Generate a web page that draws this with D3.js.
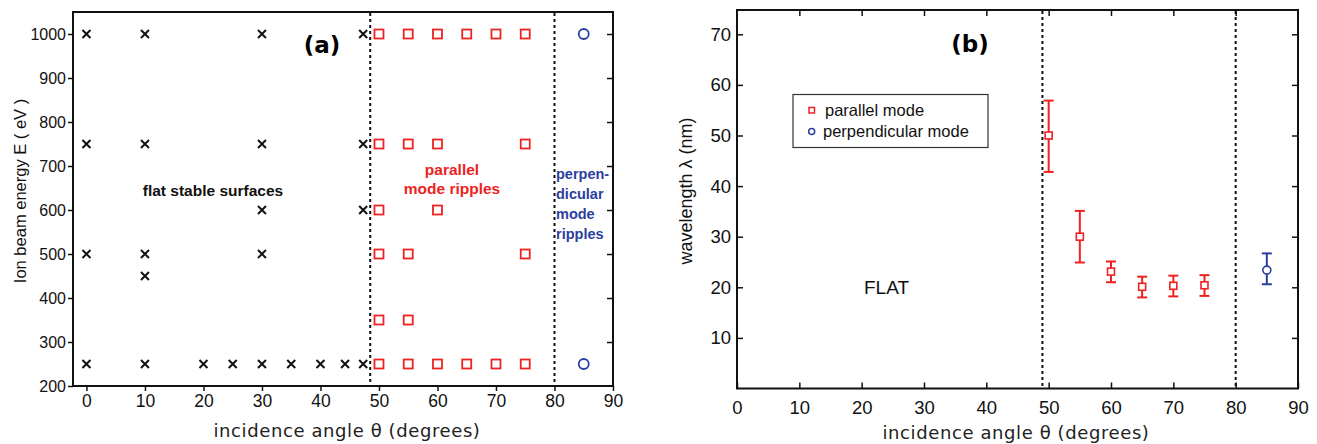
<!DOCTYPE html>
<html lang="en">
<head>
<meta charset="UTF-8">
<title>Ripple phase diagram</title>
<style>
  body { margin: 0; background: #fff; }
  svg { display: block; font-family: "Liberation Sans", Arial, sans-serif; }
</style>
</head>
<body>
<svg id="chart" width="1317" height="444"></svg>
<script src="https://d3js.org/d3.v7.min.js"></script>
<script>
// ---- data ----
const angleTicks = [0, 10, 20, 30, 40, 50, 60, 70, 80, 90];
const energyTicks = [200, 300, 400, 500, 600, 700, 800, 900, 1000];
const wavelengthTicks = [10, 20, 30, 40, 50, 60, 70];

// panel (a): [angle, energy]
const flatPoints = [
  [0, 1000], [10, 1000], [30, 1000], [47.3, 1000],
  [0, 750], [10, 750], [30, 750], [47.3, 750],
  [30, 600], [47.3, 600],
  [0, 500], [10, 500], [30, 500],
  [10, 450],
  [0, 250], [10, 250], [20, 250], [25, 250], [30, 250], [35, 250], [40, 250], [44.2, 250], [47.3, 250]
];
const parallelPoints = [
  [50, 1000], [55, 1000], [60, 1000], [65, 1000], [70, 1000], [75, 1000],
  [50, 750], [55, 750], [60, 750], [75, 750],
  [50, 600], [60, 600],
  [50, 500], [55, 500], [75, 500],
  [50, 350], [55, 350],
  [50, 250], [55, 250], [60, 250], [65, 250], [70, 250], [75, 250]
];
const perpPoints = [[85, 1000], [85, 250]];
const boundariesA = [48.5, 80];

// panel (b): angle, wavelength, low, high
const parAngle = [50, 55, 60, 65, 70, 75];
const parLambda = [50, 30, 23.1, 20.1, 20.3, 20.4];
const parLow = [42.8, 24.9, 21.0, 18.0, 18.2, 18.3];
const parHigh = [56.9, 35.1, 25.1, 22.1, 22.3, 22.4];
const perpAngle = [85];
const perpLambda = [23.4];
const perpLow = [20.6];
const perpHigh = [26.7];
const boundariesB = [49, 80];

const RED = "#ee2222", BLUE = "#2b3f9e";
const svg = d3.select("#chart");

// ================= panel (a) =================
const xa = d3.scaleLinear().domain([-2.3, 90]).range([73, 613]);
const ya = d3.scaleLinear().domain([200, 1050]).range([386, 12]);
const ga = svg.append("g");

ga.append("rect")
  .attr("x", 73).attr("y", 12).attr("width", 540).attr("height", 374)
  .attr("fill", "none").attr("stroke", "#111").attr("stroke-width", 2);

ga.append("g").attr("transform", "translate(0,386)")
  .call(d3.axisBottom(xa).tickValues(angleTicks).tickSize(5).tickPadding(4).tickFormat(d3.format("d")))
  .call(g => g.select(".domain").remove())
  .call(g => g.selectAll("line").attr("stroke", "#111").attr("stroke-width", 1.5))
  .call(g => g.selectAll("text").style("font-family", "'Liberation Sans', Arial").attr("font-size", 17.5).attr("fill", "#111"));

ga.append("g").attr("transform", "translate(73,0)")
  .call(d3.axisLeft(ya).tickValues(energyTicks).tickSize(5).tickPadding(2).tickFormat(d3.format("d")))
  .call(g => g.select(".domain").remove())
  .call(g => g.selectAll("line").attr("stroke", "#111").attr("stroke-width", 1.5))
  .call(g => g.selectAll("text").style("font-family", "'Liberation Sans', Arial").attr("font-size", 16).attr("fill", "#111"));

ga.append("g").attr("transform", "translate(613,0)")
  .call(d3.axisRight(ya).tickValues(energyTicks.filter(v => v > 200)).tickSize(-6).tickFormat(""))
  .call(g => g.select(".domain").remove())
  .call(g => g.selectAll("line").attr("stroke", "#111").attr("stroke-width", 1.5));

ga.selectAll("line.bound").data(boundariesA).join("line")
  .attr("x1", d => xa(d)).attr("x2", d => xa(d))
  .attr("y1", 13).attr("y2", 385)
  .attr("stroke", "#111").attr("stroke-width", 2).attr("stroke-dasharray", "3,3");

const cs = 4;
ga.selectAll("path.cross").data(flatPoints).join("path")
  .attr("d", d => {
    const x = xa(d[0]), y = ya(d[1]);
    return `M${x - cs},${y - cs}L${x + cs},${y + cs}M${x - cs},${y + cs}L${x + cs},${y - cs}`;
  })
  .attr("stroke", "#111").attr("stroke-width", 2);

ga.selectAll("rect.par").data(parallelPoints).join("rect")
  .attr("x", d => xa(d[0]) - 4.5).attr("y", d => ya(d[1]) - 4.5)
  .attr("width", 9).attr("height", 9)
  .attr("fill", "none").attr("stroke", RED).attr("stroke-width", 1.8);

ga.selectAll("circle.perp").data(perpPoints).join("circle")
  .attr("cx", d => xa(d[0])).attr("cy", d => ya(d[1])).attr("r", 5)
  .attr("fill", "none").attr("stroke", BLUE).attr("stroke-width", 1.8);

ga.append("text").attr("x", 322).attr("y", 53).attr("text-anchor", "middle")
  .attr("font-size", 23).attr("font-weight", "bold").style("font-family", "'DejaVu Sans'")
  .text("(a)");

ga.append("text").attr("x", 213).attr("y", 196).attr("text-anchor", "middle")
  .attr("font-size", 15.5).attr("font-weight", "bold").attr("fill", "#111")
  .text("flat stable surfaces");

ga.append("text").attr("x", 452).attr("text-anchor", "middle")
  .attr("font-size", 15.5).attr("font-weight", "bold").attr("fill", RED)
  .selectAll("tspan").data(["parallel", "mode ripples"]).join("tspan")
  .attr("x", 452).attr("y", (d, i) => 175 + i * 19).text(d => d);

ga.append("text").attr("font-size", 14.5).attr("font-weight", "bold").attr("fill", BLUE)
  .selectAll("tspan").data(["perpen-", "dicular", "mode", "ripples"]).join("tspan")
  .attr("x", 556).attr("y", (d, i) => 179 + i * 20).text(d => d);

ga.append("text").attr("transform", "translate(26,191) rotate(-90)")
  .attr("text-anchor", "middle").attr("font-size", 16.5).attr("fill", "#111")
  .text("Ion beam energy E ( eV )");

ga.append("text").attr("x", 347).attr("y", 437).attr("text-anchor", "middle")
  .style("font-family", "'DejaVu Sans'").style("letter-spacing", "0.6px")
  .attr("font-size", 18).attr("fill", "#222")
  .text("incidence angle θ (degrees)");

// ================= panel (b) =================
const xb = d3.scaleLinear().domain([0, 90]).range([737, 1298]);
const yb = d3.scaleLinear().domain([0, 74.8]).range([388.5, 10]);
const gb = svg.append("g");

gb.append("rect")
  .attr("x", 737).attr("y", 10).attr("width", 561).attr("height", 378.5)
  .attr("fill", "none").attr("stroke", "#111").attr("stroke-width", 2);

gb.append("g").attr("transform", "translate(0,388.5)")
  .call(d3.axisBottom(xb).tickValues(angleTicks).tickSize(-6).tickPadding(12))
  .call(g => g.select(".domain").remove())
  .call(g => g.selectAll("line").attr("stroke", "#111").attr("stroke-width", 1.5))
  .call(g => g.selectAll("text").style("font-family", "'Liberation Sans', Arial").attr("font-size", 18.5).attr("fill", "#111"));

gb.append("g").attr("transform", "translate(0,10)")
  .call(d3.axisTop(xb).tickValues(angleTicks.slice(1, -1)).tickSize(-6).tickFormat(""))
  .call(g => g.select(".domain").remove())
  .call(g => g.selectAll("line").attr("stroke", "#111").attr("stroke-width", 1.5));

gb.append("g").attr("transform", "translate(737,0)")
  .call(d3.axisLeft(yb).tickValues(wavelengthTicks).tickSize(-6).tickPadding(6))
  .call(g => g.select(".domain").remove())
  .call(g => g.selectAll("line").attr("stroke", "#111").attr("stroke-width", 1.5))
  .call(g => g.selectAll("text").style("font-family", "'Liberation Sans', Arial").attr("font-size", 18.5).attr("fill", "#111"));

gb.append("g").attr("transform", "translate(1298,0)")
  .call(d3.axisRight(yb).tickValues(wavelengthTicks).tickSize(-6).tickFormat(""))
  .call(g => g.select(".domain").remove())
  .call(g => g.selectAll("line").attr("stroke", "#111").attr("stroke-width", 1.5));

gb.selectAll("line.bound").data(boundariesB).join("line")
  .attr("x1", d => xb(d)).attr("x2", d => xb(d))
  .attr("y1", 11).attr("y2", 387)
  .attr("stroke", "#111").attr("stroke-width", 2).attr("stroke-dasharray", "3,3");

function errorBars(g, xs, ys, lo, hi, color, marker) {
  const rows = xs.map((x, i) => ({ x, y: ys[i], lo: lo[i], hi: hi[i] }));
  const e = g.append("g").attr("stroke", color).attr("stroke-width", 2).attr("fill", "none");
  e.selectAll("line.v").data(rows).join("line")
    .attr("x1", d => xb(d.x)).attr("x2", d => xb(d.x))
    .attr("y1", d => yb(d.lo)).attr("y2", d => yb(d.hi));
  e.selectAll("line.lo").data(rows).join("line")
    .attr("x1", d => xb(d.x) - 5).attr("x2", d => xb(d.x) + 5)
    .attr("y1", d => yb(d.lo)).attr("y2", d => yb(d.lo));
  e.selectAll("line.hi").data(rows).join("line")
    .attr("x1", d => xb(d.x) - 5).attr("x2", d => xb(d.x) + 5)
    .attr("y1", d => yb(d.hi)).attr("y2", d => yb(d.hi));
  if (marker === "square") {
    e.selectAll("rect").data(rows).join("rect")
      .attr("x", d => xb(d.x) - 3.5).attr("y", d => yb(d.y) - 3.5)
      .attr("width", 7).attr("height", 7)
      .attr("fill", "#fff").attr("stroke-width", 1.6);
  } else {
    e.selectAll("circle").data(rows).join("circle")
      .attr("cx", d => xb(d.x)).attr("cy", d => yb(d.y)).attr("r", 4)
      .attr("fill", "#fff").attr("stroke-width", 1.6);
  }
}
errorBars(gb, parAngle, parLambda, parLow, parHigh, RED, "square");
errorBars(gb, perpAngle, perpLambda, perpLow, perpHigh, BLUE, "circle");

// legend
const lg = gb.append("g");
lg.append("rect").attr("x", 793).attr("y", 94.5).attr("width", 195).attr("height", 53)
  .attr("fill", "#fff").attr("stroke", "#333").attr("stroke-width", 1.2);
lg.append("rect").attr("x", 809).attr("y", 107.5).attr("width", 5.5).attr("height", 5.5)
  .attr("fill", "none").attr("stroke", RED).attr("stroke-width", 1.5);
lg.append("circle").attr("cx", 811.7).attr("cy", 131.5).attr("r", 3)
  .attr("fill", "none").attr("stroke", BLUE).attr("stroke-width", 1.5);
lg.append("text").attr("x", 825).attr("y", 115.5).attr("font-size", 16.5).attr("fill", "#111").text("parallel mode");
lg.append("text").attr("x", 823).attr("y", 137).attr("font-size", 16.5).attr("fill", "#111").text("perpendicular mode");

gb.append("text").attr("x", 970).attr("y", 52).attr("text-anchor", "middle")
  .attr("font-size", 23).attr("font-weight", "bold").style("font-family", "'DejaVu Sans'")
  .text("(b)");

gb.append("text").attr("x", 864).attr("y", 294)
  .attr("font-size", 19).attr("fill", "#111").text("FLAT");

gb.append("text").attr("transform", "translate(692,191) rotate(-90)")
  .attr("text-anchor", "middle").attr("font-size", 18).attr("fill", "#111")
  .text("wavelength λ (nm)");

gb.append("text").attr("x", 1016).attr("y", 439).attr("text-anchor", "middle")
  .style("font-family", "'DejaVu Sans'").style("letter-spacing", "0.6px")
  .attr("font-size", 18).attr("fill", "#222")
  .text("incidence angle θ (degrees)");
</script>
</body>
</html>
